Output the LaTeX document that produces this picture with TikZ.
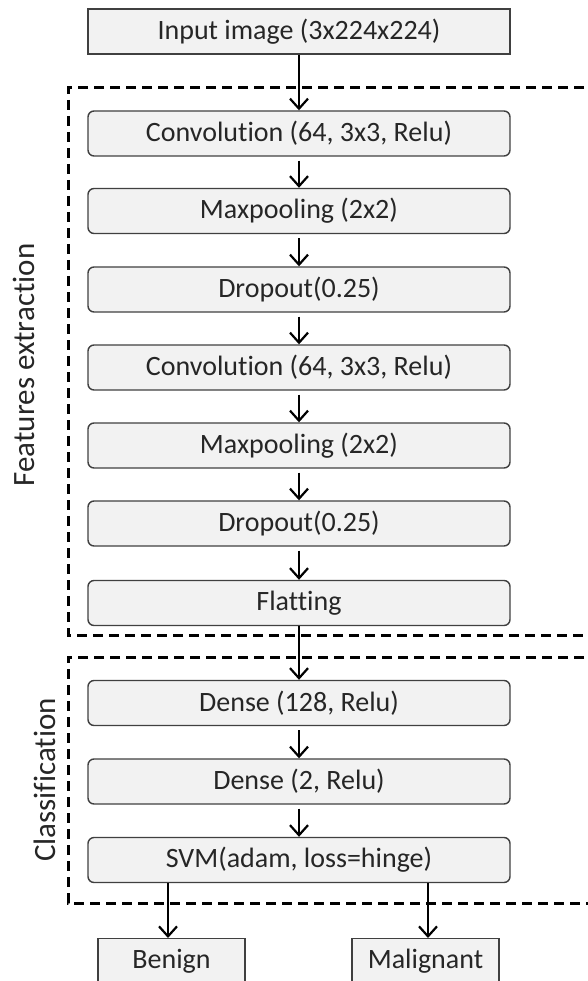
\documentclass[tikz,border=0pt]{standalone}
\usepackage{fontspec}
\setmainfont{Carlito}[Ligatures=NoCommon]
\usetikzlibrary{arrows.meta}
\definecolor{boxfill}{HTML}{F2F2F2}
\definecolor{boxline}{HTML}{404040}
\begin{document}
\begin{tikzpicture}[x=1pt,y=-1pt,
  layer/.style={draw=boxline,line width=1.4pt,fill=boxfill,rounded corners=6pt,
    minimum width=422pt,minimum height=45pt,inner sep=0pt,font=\fontsize{28}{32}\selectfont,text=black!85},
  sqbox/.style={layer,rounded corners=0pt},
  outbox/.style={sqbox,minimum width=147pt,minimum height=60pt,anchor=north,text depth=19pt},
  flow/.style={line width=2.2pt,-{Straight Barb[length=10pt,width=18pt,line width=2.2pt]}},
  region/.style={line width=3pt,dash pattern=on 10pt off 6pt},
  lbl/.style={rotate=90,font=\fontsize{31}{34}\selectfont,text=black!85}]
\useasboundingbox (0,0) rectangle (587,981);
% dashed regions
\draw[region] (600,88) -- (68,88) -- (68,635) -- (600,635);
\draw[region] (600,657) -- (68,657) -- (68,903) -- (600,903);
% nodes
\node[sqbox] (in) at (299,31.5) {Input image (3x224x224)};
\node[layer] (c1) at (299,133.5) {Convolution (64, 3x3, Relu)};
\node[layer] (m1) at (299,211) {Maxpooling (2x2)};
\node[layer] (d1) at (299,289.5) {Dropout(0.25)};
\node[layer] (c2) at (299,367.5) {Convolution (64, 3x3, Relu)};
\node[layer] (m2) at (299,445.5) {Maxpooling (2x2)};
\node[layer] (d2) at (299,523.5) {Dropout(0.25)};
\node[layer] (fl) at (299,603) {Flatting};
\node[layer] (de1) at (299,703) {Dense (128, Relu)};
\node[layer] (de2) at (299,781.5) {Dense (2, Relu)};
\node[layer] (svm) at (299,860) {SVM(adam, loss=hinge)};
\node[outbox] (ben) at (171.5,938) {Benign};
\node[outbox] (mal) at (425.5,938) {Malignant};
\node[lbl] (fe) at (24,365) {Features extraction};
\node[lbl] (cl) at (45,780) {Classification};
% connectors
\draw[flow] (in.south) -- (c1.north);
\draw[flow] ([yshift=-4pt]c1.south) -- (m1.north);
\draw[flow] ([yshift=-4pt]m1.south) -- (d1.north);
\draw[flow] ([yshift=-4pt]d1.south) -- (c2.north);
\draw[flow] ([yshift=-4pt]c2.south) -- (m2.north);
\draw[flow] ([yshift=-4pt]m2.south) -- (d2.north);
\draw[flow] ([yshift=-4pt]d2.south) -- (fl.north);
\draw[flow] (fl.south) -- (de1.north);
\draw[flow] ([yshift=-4pt]de1.south) -- (de2.north);
\draw[flow] ([yshift=-4pt]de2.south) -- (svm.north);
\draw[flow] (svm.south -| 168,0) -- (ben.north -| 168,0);
\draw[flow] (svm.south -| 428,0) -- (mal.north -| 428,0);
\end{tikzpicture}
\end{document}
